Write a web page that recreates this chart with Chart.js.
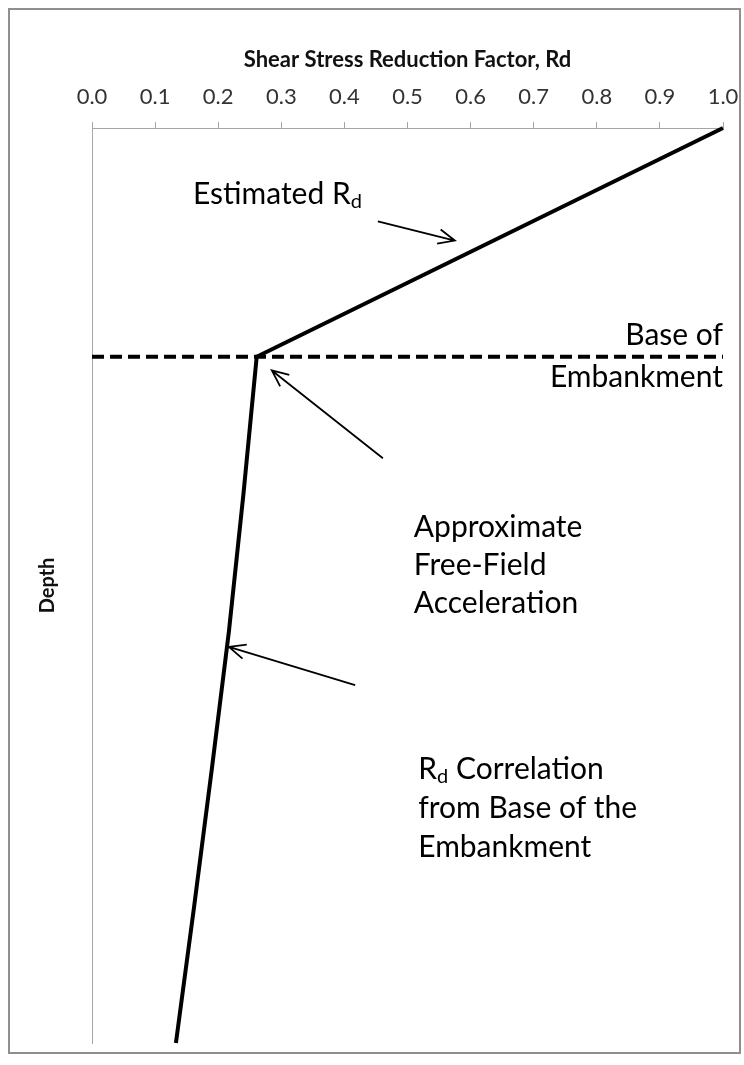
<!DOCTYPE html>
<html>
<head>
<meta charset="utf-8">
<script src="https://cdn.jsdelivr.net/npm/chart.js@4.4.0/dist/chart.umd.min.js"></script>
<style>
  html, body { margin: 0; padding: 0; background: #fff; }
  #wrap { position: relative; width: 744px; height: 1065px; }
  #frame { position: absolute; left: 8px; top: 8px; width: 729px; height: 1042px; border: 2px solid #8f8f8f; }
  #rdChart { position: absolute; left: 0; top: 0; }
</style>
</head>
<body>
<div id="wrap">
  <div id="frame"></div>
  <canvas id="rdChart" width="744" height="1065"></canvas>
</div>
<script>
// Rd vs depth (depth in % of plotted height)
const depthValues = [0, 25, 40, 55, 70, 85, 100];
const rdValues = [1.0, 0.261, 0.240, 0.217, 0.190, 0.162, 0.133];
const baseDepth = 25;
const baseRd = [0, 1];
const xTickValues = [0.0, 0.1, 0.2, 0.3, 0.4, 0.5, 0.6, 0.7, 0.8, 0.9, 1.0];

// callouts, in data units (rd, depth)
const notes = [
  { lines: [[["Estimated R", false], ["d", true]]], x: 0.16, y: 7.3, align: "left" },
  { lines: [[["Base of", false]], [["Embankment", false]]], x: 1.0, y: 22.7, align: "right", gap: 4.5 },
  { lines: [[["Approximate", false]], [["Free-Field", false]], [["Acceleration", false]]], x: 0.51, y: 43.6, align: "left", gap: 4.2 },
  { lines: [[["R", false], ["d", true], [" Correlation", false]], [["from Base of the", false]], [["Embankment", false]]], x: 0.517, y: 70.1, align: "left", gap: 4.25 }
];
const arrows = [
  { from: [0.453, 10.2], to: [0.575, 12.3] },
  { from: [0.461, 36.1], to: [0.285, 26.5] },
  { from: [0.417, 60.9], to: [0.217, 56.7] }
];

const noteFont = "30px Lato";
const subFont = "20px Lato";

const calloutPlugin = {
  id: "callouts",
  afterDraw(chart) {
    const { ctx, scales: { x, y } } = chart;
    ctx.save();
    ctx.fillStyle = "#000";
    ctx.textBaseline = "middle";
    notes.forEach(n => {
      n.lines.forEach((parts, i) => {
        const py = y.getPixelForValue(n.y + i * (n.gap || 0));
        let total = 0;
        parts.forEach(([t, sub]) => {
          ctx.font = sub ? subFont : noteFont;
          total += ctx.measureText(t).width;
        });
        let px = x.getPixelForValue(n.x);
        if (n.align === "right") px -= total;
        parts.forEach(([t, sub]) => {
          ctx.font = sub ? subFont : noteFont;
          ctx.textAlign = "left";
          ctx.fillText(t, px, sub ? py + 7 : py);
          px += ctx.measureText(t).width;
        });
      });
    });
    ctx.strokeStyle = "#000";
    ctx.lineWidth = 1.8;
    arrows.forEach(a => {
      const x1 = x.getPixelForValue(a.from[0]), y1 = y.getPixelForValue(a.from[1]);
      const x2 = x.getPixelForValue(a.to[0]), y2 = y.getPixelForValue(a.to[1]);
      const ang = Math.atan2(y2 - y1, x2 - x1);
      const hl = 18, ha = 0.42;
      ctx.beginPath();
      ctx.moveTo(x1, y1);
      ctx.lineTo(x2, y2);
      ctx.moveTo(x2 - hl * Math.cos(ang - ha), y2 - hl * Math.sin(ang - ha));
      ctx.lineTo(x2, y2);
      ctx.lineTo(x2 - hl * Math.cos(ang + ha), y2 - hl * Math.sin(ang + ha));
      ctx.stroke();
    });
    ctx.restore();
  }
};

new Chart(document.getElementById("rdChart"), {
  type: "line",
  data: {
    datasets: [
      {
        label: "Rd",
        data: depthValues.map((d, i) => ({ x: rdValues[i], y: d })),
        borderColor: "#000",
        borderWidth: 4,
        pointRadius: 0,
        tension: 0,
        clip: false
      },
      {
        label: "Base of Embankment",
        data: baseRd.map(v => ({ x: v, y: baseDepth })),
        borderColor: "#000",
        borderWidth: 4,
        borderDash: [12, 6],
        pointRadius: 0,
        clip: false
      }
    ]
  },
  options: {
    responsive: false,
    animation: false,
    devicePixelRatio: 1,
    layout: { padding: { top: 0, left: 0, right: 21, bottom: 22 } },
    plugins: { legend: { display: false }, tooltip: { enabled: false } },
    scales: {
      x: {
        type: "linear",
        position: "top",
        min: 0,
        max: 1,
        afterBuildTicks: s => { s.ticks = xTickValues.map(v => ({ value: v })); },
        afterFit: s => { s.height = 128; s.paddingLeft = 0; s.paddingRight = 0; },
        ticks: {
          callback: v => Number(v).toFixed(1),
          font: { family: "Lato", size: 22 },
          color: "#333",
          padding: 12,
          maxRotation: 0
        },
        grid: { drawOnChartArea: false, tickLength: 6, color: "#a6a6a6" },
        border: { color: "#a6a6a6", width: 1 },
        title: {
          display: true,
          text: "Shear Stress Reduction Factor, Rd",
          font: { family: "Lato", size: 22, weight: "bold" },
          color: "#111",
          padding: { top: 47, bottom: 0 }
        }
      },
      y: {
        type: "linear",
        reverse: true,
        min: 0,
        max: 100,
        afterFit: s => { s.width = 92; },
        ticks: { display: false },
        grid: { display: false },
        border: { color: "#a6a6a6", width: 1 },
        title: {
          display: true,
          text: "Depth",
          font: { family: "Lato", size: 20, weight: "bold" },
          color: "#111",
          padding: { top: 36, bottom: 0 }
        }
      }
    }
  },
  plugins: [calloutPlugin]
});
</script>
</body>
</html>
